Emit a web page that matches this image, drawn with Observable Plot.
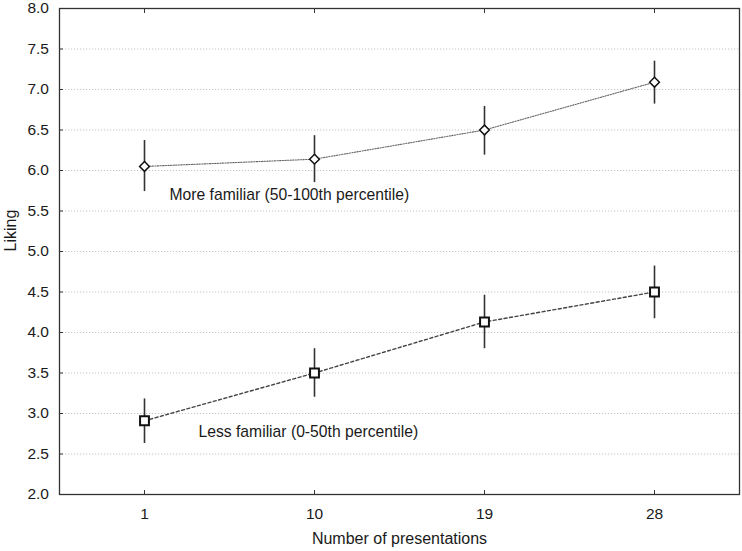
<!DOCTYPE html>
<html>
<head>
<meta charset="utf-8">
<script src="https://cdn.jsdelivr.net/npm/d3@7"></script>
<script src="https://cdn.jsdelivr.net/npm/@observablehq/plot@0.6"></script>
<style>
  html, body { margin: 0; padding: 0; background: white; }
</style>
</head>
<body>
<div id="chart"></div>
<script>
const presentations = ["1", "10", "19", "28"];
const moreMean = [6.05, 6.14, 6.50, 7.09];
const moreLow  = [5.74, 5.85, 6.19, 6.82];
const moreHigh = [6.37, 6.43, 6.79, 7.35];
const lessMean = [2.91, 3.50, 4.13, 4.50];
const lessLow  = [2.63, 3.20, 3.80, 4.17];
const lessHigh = [3.18, 3.80, 4.46, 4.82];
const seriesLabels = ["More familiar (50-100th percentile)", "Less familiar (0-50th percentile)"];
const yTicks = [2.0, 2.5, 3.0, 3.5, 4.0, 4.5, 5.0, 5.5, 6.0, 6.5, 7.0, 7.5, 8.0];
const gridTicks = [2.5, 3.0, 3.5, 4.0, 4.5, 5.0, 5.5, 6.0, 6.5, 7.0, 7.5];
const xTitle = "Number of presentations";
const yTitle = "Liking";

const more = presentations.map((p, i) => ({x: p, y: moreMean[i], lo: moreLow[i], hi: moreHigh[i]}));
const less = presentations.map((p, i) => ({x: p, y: lessMean[i], lo: lessLow[i], hi: lessHigh[i]}));

const ink = "#333";
const txt = "#1a1a1a";

const chart = Plot.plot({
  width: 742,
  height: 551,
  marginLeft: 59,
  marginRight: 3,
  marginTop: 8,
  marginBottom: 57,
  style: {fontFamily: "'Liberation Sans', Arial, sans-serif", fontSize: "16px", color: txt, background: "white"},
  x: {type: "point", domain: presentations, padding: 0.5},
  y: {domain: [2, 8]},
  marks: [
    Plot.ruleY(gridTicks, {stroke: "#c4c4c4", strokeDasharray: "1.2,1.8", strokeWidth: 1}),
    Plot.frame({stroke: ink, strokeWidth: 1.3}),
    Plot.axisY({ticks: yTicks, tickFormat: d => d.toFixed(1), tickSize: -4, tickPadding: 14.5, stroke: ink, fontSize: 15.5,
      label: null}),
    Plot.axisX({tickSize: -4, tickPadding: 17, stroke: ink, fontSize: 15.5, label: null}),
    Plot.axisX({anchor: "top", tickSize: -4, tickFormat: () => "", label: null, stroke: ink}),
    Plot.text([xTitle], {frameAnchor: "bottom", dy: 44, lineAnchor: "middle", text: d => d, fontSize: 16, fill: txt}),
    Plot.text([yTitle], {frameAnchor: "left", dx: -48.5, rotate: -90, lineAnchor: "middle", text: d => d, fontSize: 16, fill: txt}),
    Plot.ruleX(more, {x: "x", y1: "lo", y2: "hi", stroke: ink, strokeWidth: 1.6}),
    Plot.ruleX(less, {x: "x", y1: "lo", y2: "hi", stroke: ink, strokeWidth: 1.6}),
    Plot.line(more, {x: "x", y: "y", stroke: "#666", strokeWidth: 1.1, strokeDasharray: "1.3,1.3"}),
    Plot.line(less, {x: "x", y: "y", stroke: "#444", strokeWidth: 1.4, strokeDasharray: "3,2.5"}),
    Plot.dot(more, {x: "x", y: "y", symbol: "diamond2", r: 4.4, fill: "white", stroke: "#111", strokeWidth: 1.5}),
    Plot.dot(less, {x: "x", y: "y", symbol: "square", r: 5.0, fill: "white", stroke: "#111", strokeWidth: 2}),
    Plot.text([seriesLabels[0]], {x: () => presentations[0], y: () => 5.70, dx: 25, text: d => d, textAnchor: "start", fontSize: 15.7, fill: txt}),
    Plot.text([seriesLabels[1]], {x: () => presentations[0], y: () => 2.77, dx: 54, text: d => d, textAnchor: "start", fontSize: 15.7, fill: txt})
  ]
});
document.getElementById("chart").appendChild(chart);
</script>
</body>
</html>
